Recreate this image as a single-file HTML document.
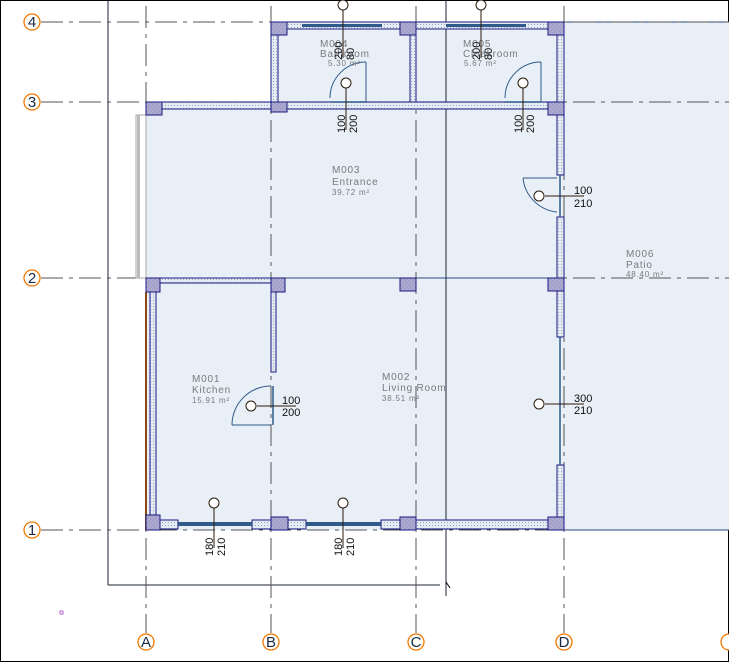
<!DOCTYPE html>
<html><head><meta charset="utf-8"><style>
html,body{margin:0;padding:0;background:#fff}
svg{display:block}
text{font-family:"Liberation Sans",sans-serif}
</style></head><body>
<svg width="729" height="663" viewBox="0 0 729 663" xmlns="http://www.w3.org/2000/svg">
<defs>
<pattern id="dot" width="3" height="3" patternUnits="userSpaceOnUse"><rect width="3" height="3" fill="#e4ebf3"/><rect width="1" height="1" fill="#9aa6bf"/></pattern>
<pattern id="col" width="4" height="4" patternUnits="userSpaceOnUse"><rect width="4" height="4" fill="#a3a1c9"/><path d="M0 4L4 0" stroke="#b8b6d8" stroke-width="0.7"/></pattern>
</defs>
<rect x="0.5" y="0.5" width="728" height="661" fill="none" stroke="#000"/>
<rect x="564" y="22" width="165" height="508" fill="#e8eff7"/>
<rect x="146" y="102" width="418" height="428" fill="#e8eff7"/>
<rect x="271" y="22" width="293" height="80" fill="#e8eff7"/>
<line x1="108" y1="0" x2="108" y2="585" stroke="#1b2433" stroke-width="1"/>
<line x1="108" y1="585" x2="440" y2="585" stroke="#1b2433"/>
<line x1="446" y1="0" x2="446" y2="596" stroke="#1b2433"/>
<line x1="446" y1="582" x2="450" y2="588" stroke="#000"/>
<line x1="564" y1="22" x2="729" y2="22" stroke="#2a4a7a"/>
<line x1="564" y1="530" x2="729" y2="530" stroke="#2a4a7a"/>
<g stroke="#555" stroke-width="1" stroke-dasharray="22,6,4,6" fill="none">
<line x1="41" y1="22" x2="729" y2="22"/>
<line x1="41" y1="102" x2="729" y2="102"/>
<line x1="41" y1="278" x2="729" y2="278"/>
<line x1="41" y1="530" x2="564" y2="530"/>
<line x1="146" y1="6" x2="146" y2="633"/>
<line x1="271" y1="6" x2="271" y2="633"/>
<line x1="416" y1="6" x2="416" y2="633"/>
<line x1="564" y1="6" x2="564" y2="633"/>
</g>
<line x1="146" y1="278" x2="564" y2="278" stroke="#2a4a7a"/>
<g fill="#fff" stroke="#f07800" stroke-width="1.3">
<circle cx="32" cy="22" r="8"/><circle cx="32" cy="102" r="8"/><circle cx="32" cy="278" r="8"/><circle cx="32" cy="530" r="8"/>
<circle cx="146" cy="642" r="8"/><circle cx="271" cy="642" r="8"/><circle cx="416" cy="642" r="8"/><circle cx="564" cy="642" r="8"/><circle cx="729" cy="642" r="8"/>
</g>
<g font-size="15" fill="#1a2a44" text-anchor="middle">
<text x="32" y="27">4</text><text x="32" y="107">3</text><text x="32" y="283">2</text><text x="32" y="535">1</text>
<text x="146" y="647">A</text><text x="271" y="647">B</text><text x="416" y="647">C</text><text x="564" y="647">D</text>
</g>
<g fill="url(#dot)" stroke="#1a1a80" stroke-width="1">
<rect x="276" y="22" width="124" height="7"/>
<rect x="416" y="22" width="132" height="7"/>
<rect x="271" y="29" width="7" height="73"/>
<rect x="410" y="29" width="6" height="73"/>
<rect x="557" y="29" width="7" height="73"/>
<rect x="162" y="102" width="386" height="7"/>
<rect x="557" y="115" width="7" height="60"/>
<rect x="557" y="217" width="7" height="120"/>
<rect x="557" y="465" width="7" height="52"/>
<rect x="160" y="278" width="111" height="5"/>
<rect x="150" y="292" width="6" height="223"/>
<rect x="271" y="292" width="5" height="80"/>
<rect x="160" y="520" width="18" height="9"/>
<rect x="252" y="520" width="19" height="9"/>
<rect x="288" y="520" width="18" height="9"/>
<rect x="381" y="520" width="19" height="9"/>
<rect x="416" y="520" width="132" height="9"/>
</g>
<line x1="146" y1="292" x2="146" y2="530" stroke="#8a4a10" stroke-width="2"/>
<g fill="#2f5a8a">
<rect x="302" y="24" width="80" height="3"/><rect x="446" y="24" width="80" height="3"/>
<rect x="178" y="522" width="74" height="4"/><rect x="306" y="522" width="75" height="4"/>
</g>
<rect x="136" y="115" width="10" height="163" fill="#fff" stroke="#aaa"/>
<rect x="137" y="115" width="3" height="163" fill="#bbb"/>
<g stroke="#2f5a8a" stroke-width="1.5" fill="none">
<line x1="330" y1="102" x2="366" y2="102"/>
<line x1="505" y1="102" x2="541" y2="102"/>
<line x1="560" y1="175" x2="560" y2="217"/>
<line x1="560" y1="337" x2="560" y2="465"/>
<line x1="273" y1="386" x2="273" y2="425"/>
</g>
<g stroke="#2f5a8a" stroke-width="1" fill="none">
<path d="M366 62 A36 36 0 0 0 330 98"/><line x1="366" y1="62" x2="366" y2="102"/>
<path d="M541 62 A36 36 0 0 0 505 98"/><line x1="541" y1="62" x2="541" y2="102"/>
<path d="M523 178 A38 38 0 0 0 557 212"/><line x1="523" y1="178" x2="557" y2="178"/>
<path d="M271 386 A39 39 0 0 0 232 425"/><line x1="232" y1="425" x2="271" y2="425"/>
</g>
<g fill="url(#col)" stroke="#1a1a80" stroke-width="1">
<rect x="146" y="102" width="16" height="13"/><rect x="271" y="102" width="16" height="10"/><rect x="548" y="102" width="16" height="13"/>
<rect x="271" y="22" width="16" height="13"/><rect x="400" y="22" width="16" height="13"/><rect x="548" y="22" width="16" height="13"/>
<rect x="146" y="278" width="14" height="14"/><rect x="271" y="278" width="14" height="14"/><rect x="400" y="278" width="16" height="13"/><rect x="548" y="278" width="16" height="13"/>
<rect x="146" y="515" width="14" height="15"/><rect x="271" y="517" width="17" height="13"/><rect x="400" y="517" width="16" height="13"/><rect x="548" y="517" width="16" height="13"/>
</g>
<g font-size="10" fill="#7a7a7a" letter-spacing="0.8">
<text x="332" y="173">M003</text><text x="332" y="185">Entrance</text><text x="332" y="195" font-size="8">39.72 m²</text>
<text x="626" y="257">M006</text><text x="626" y="268">Patio</text><text x="626" y="277" font-size="8">48.40 m²</text>
<text x="192" y="382">M001</text><text x="192" y="393">Kitchen</text><text x="192" y="403" font-size="8">15.91 m²</text>
<text x="382" y="380">M002</text><text x="382" y="391">Living Room</text><text x="382" y="401" font-size="8">38.51 m²</text>
<text x="320" y="47">M004</text><text x="320" y="57">Bathroom</text><text x="328" y="66" font-size="8">5.30 m²</text>
<text x="463" y="47">M005</text><text x="463" y="57">Cloakroom</text><text x="464" y="66" font-size="8">5.67 m²</text>
</g>
<g stroke="#2a1a0a" stroke-width="1" fill="#fff">
<line x1="343" y1="10" x2="343" y2="58"/><circle cx="343" cy="5" r="5"/>
<line x1="481" y1="10" x2="481" y2="58"/><circle cx="481" cy="5" r="5"/>
<line x1="346" y1="88" x2="346" y2="130"/><circle cx="346" cy="83" r="5"/>
<line x1="523" y1="88" x2="523" y2="130"/><circle cx="523" cy="83" r="5"/>
<line x1="545" y1="196" x2="584" y2="196"/><circle cx="539" cy="196" r="5"/>
<line x1="545" y1="404" x2="584" y2="404"/><circle cx="539" cy="404" r="5"/>
<line x1="257" y1="406" x2="296" y2="406"/><circle cx="251" cy="406" r="5"/>
<line x1="214" y1="508" x2="214" y2="548"/><circle cx="214" cy="503" r="5"/>
<line x1="343" y1="508" x2="343" y2="548"/><circle cx="343" cy="503" r="5"/>
</g>
<g font-size="11" fill="#111">
<text x="574" y="194">100</text><text x="574" y="207">210</text>
<text x="574" y="402">300</text><text x="574" y="414">210</text>
<text x="282" y="404">100</text><text x="282" y="416">200</text>
<text transform="translate(345,133) rotate(-90)">100</text><text transform="translate(357,133) rotate(-90)">200</text>
<text transform="translate(522,133) rotate(-90)">100</text><text transform="translate(534,133) rotate(-90)">200</text>
<text transform="translate(213,556) rotate(-90)">180</text><text transform="translate(225,556) rotate(-90)">210</text>
<text transform="translate(342,556) rotate(-90)">180</text><text transform="translate(354,556) rotate(-90)">210</text>
<text transform="translate(342,60) rotate(-90)">200</text><text transform="translate(354,60) rotate(-90)">80</text>
<text transform="translate(480,60) rotate(-90)">200</text><text transform="translate(492,60) rotate(-90)">80</text>
</g>
<rect x="60" y="611" width="3" height="3" fill="none" stroke="#a040c0" stroke-width="0.8"/>
</svg>
</body></html>
